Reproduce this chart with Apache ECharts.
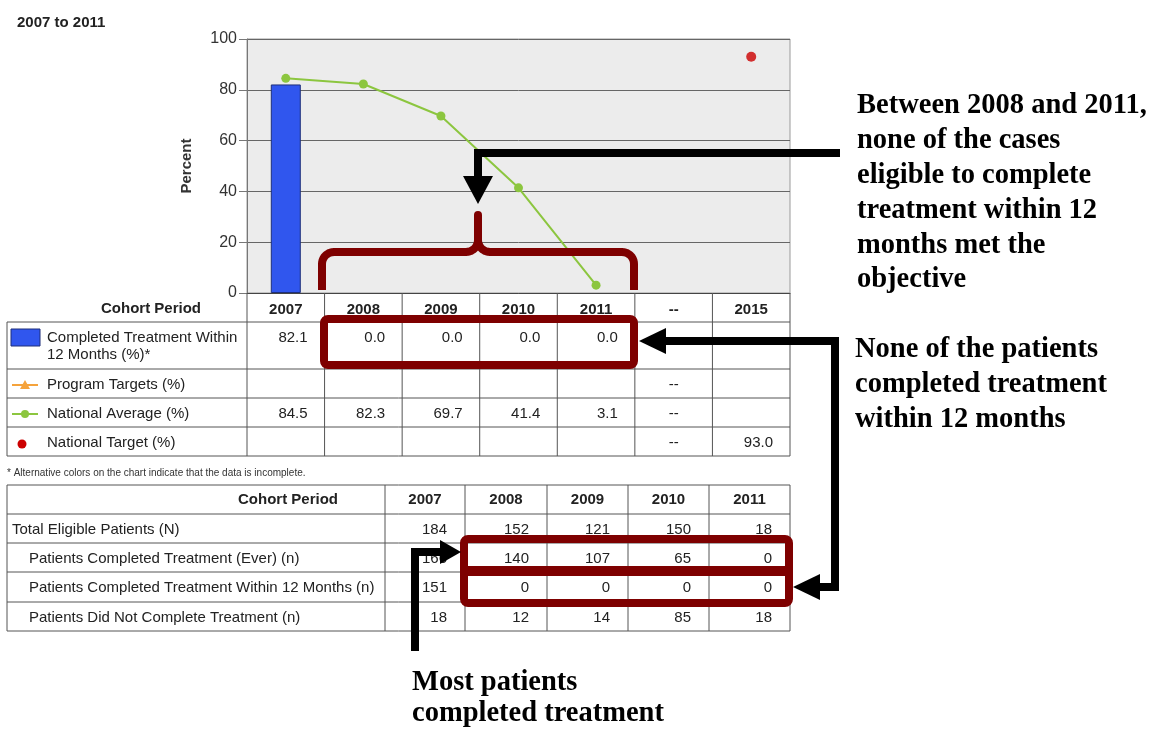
<!DOCTYPE html>
<html>
<head>
<meta charset="utf-8">
<script src="https://cdn.jsdelivr.net/npm/echarts@6/dist/echarts.min.js"></script>
<style>
  html, body { margin: 0; padding: 0; background: #fff; }
  #chart { width: 1160px; height: 730px; }
</style>
</head>
<body>
<div id="chart"></div>
<script>
// chart data
var periods = ['2007', '2008', '2009', '2010', '2011', '--', '2015'];
var completedPct = [82.1, 0.0, 0.0, 0.0, 0.0, null, null];
var programTargets = [null, null, null, null, null, null, null];
var nationalAvg = [84.5, 82.3, 69.7, 41.4, 3.1, null, null];
var nationalTarget = [null, null, null, null, null, null, 93.0];

// patient counts table
var cohortYears = ['2007', '2008', '2009', '2010', '2011'];
var totalEligible = [184, 152, 121, 150, 18];
var completedEver = [166, 140, 107, 65, 0];
var completedWithin12 = [151, 0, 0, 0, 0];
var didNotComplete = [18, 12, 14, 85, 18];

var SANS = '"Liberation Sans", Arial, sans-serif';
var SERIF = '"Liberation Serif", "Times New Roman", serif';
var MAROON = '#7e0000';
var GREEN = '#8cc63f';
var ORANGE = '#f5a33c';
var RED = '#cc0000';
var BLUE = '#3056ee';
var LINE = '#555';

var chart = echarts.init(document.getElementById('chart'), null, { renderer: 'canvas' });

// zero-height bars get no outline so nothing shows on the axis
var barData = completedPct.map(function (v) {
  return v === 0 ? { value: v, itemStyle: { borderWidth: 0 } } : v;
});

chart.setOption({
  backgroundColor: '#fff',
  animation: false,
  grid: {
    left: 247, top: 39, width: 543, height: 254,
    show: true, backgroundColor: '#ececec', borderColor: '#9a9a9a', borderWidth: 1
  },
  xAxis: {
    type: 'category',
    data: periods,
    axisLine: { lineStyle: { color: '#444' } },
    axisTick: { show: false },
    axisLabel: { interval: 0, margin: 9, fontFamily: SANS, fontSize: 15, fontWeight: 'bold', color: '#222' },
    splitLine: { show: false }
  },
  yAxis: {
    type: 'value',
    min: 0, max: 100, interval: 20,
    name: 'Percent',
    nameLocation: 'middle',
    nameGap: 53,
    nameTextStyle: { fontFamily: SANS, fontSize: 15, fontWeight: 'bold', color: '#333' },
    axisLine: { show: true, lineStyle: { color: '#777' } },
    axisTick: { show: true, length: 8, lineStyle: { color: '#777' } },
    axisLabel: { margin: 10, fontFamily: SANS, fontSize: 16, color: '#333' },
    splitLine: { lineStyle: { color: '#666' } }
  },
  series: [
    {
      name: 'Completed Treatment Within 12 Months (%)',
      type: 'bar',
      data: barData,
      barWidth: 30,
      itemStyle: { color: BLUE, borderColor: '#1e2e7a', borderWidth: 1 }
    },
    {
      name: 'Program Targets (%)',
      type: 'line',
      data: programTargets,
      color: ORANGE,
      symbol: 'triangle'
    },
    {
      name: 'National Average (%)',
      type: 'line',
      data: nationalAvg,
      color: GREEN,
      symbol: 'circle',
      symbolSize: 9,
      lineStyle: { width: 2, color: GREEN },
      itemStyle: { color: GREEN }
    },
    {
      name: 'National Target (%)',
      type: 'scatter',
      data: nationalTarget,
      symbolSize: 10,
      itemStyle: { color: RED }
    }
  ]
});

function txt(x, y, s, o) {
  o = o || {};
  return {
    type: 'text', z: o.z || 50,
    style: {
      text: s, x: x, y: y,
      fill: o.fill || '#222',
      font: (o.bold ? 'bold ' : '') + (o.size || 15) + 'px ' + (o.family || SANS),
      align: o.align || 'left',
      verticalAlign: o.va || 'middle'
    }
  };
}
function seg(x1, y1, x2, y2, o) {
  o = o || {};
  return {
    type: 'line', z: o.z || 40,
    shape: { x1: x1, y1: y1, x2: x2, y2: y2 },
    style: { stroke: o.color || LINE, lineWidth: o.width || 1, lineCap: o.cap || 'butt' }
  };
}
function poly(points, o) {
  return {
    type: 'polyline', z: o.z || 100,
    shape: { points: points },
    style: { stroke: o.color, lineWidth: o.width, fill: 'none', lineJoin: o.join || 'miter', lineCap: o.cap || 'butt' }
  };
}
function head(points, color) {
  return { type: 'polygon', z: 101, shape: { points: points }, style: { fill: color || '#000' } };
}
function arc(cx, cy, r, a0, a1) {
  var pts = [];
  for (var k = 0; k <= 10; k++) {
    var a = a0 + (a1 - a0) * k / 10;
    pts.push([cx + r * Math.cos(a), cy + r * Math.sin(a)]);
  }
  return pts;
}

var g = [];
var x0 = chart.convertToPixel({ xAxisIndex: 0 }, periods[0]);
var colW = chart.convertToPixel({ xAxisIndex: 0 }, periods[1]) - x0;
var gridLeft = x0 - colW / 2;
var gridRight = gridLeft + colW * periods.length;

// title
g.push(txt(17, 23, '2007 to 2011', { bold: true, size: 15 }));

// ---- legend table under the chart ----
var t1Rows = [322, 369, 398, 427, 456];
t1Rows.forEach(function (y) { g.push(seg(7, y, gridRight, y)); });
g.push(seg(7, 322, 7, 456));
for (var c = 0; c <= periods.length; c++) {
  var cx = gridLeft + c * colW;
  g.push(seg(cx, 293, cx, 456));
}
g.push(txt(151, 309, 'Cohort Period', { bold: true, align: 'center' }));

var t1 = [
  { label: ['Completed Treatment Within', '12 Months (%)*'], vals: completedPct, dash: false, y: 338 },
  { label: ['Program Targets (%)'], vals: programTargets, dash: true, y: 385 },
  { label: ['National Average (%)'], vals: nationalAvg, dash: true, y: 414 },
  { label: ['National Target (%)'], vals: nationalTarget, dash: true, y: 443 }
];
t1.forEach(function (row) {
  row.label.forEach(function (l, k) { g.push(txt(47, row.y + k * 17, l)); });
  row.vals.forEach(function (v, i) {
    var cxi = x0 + i * colW;
    if (v != null) {
      g.push(txt(cxi + colW / 2 - 17, row.y, v.toFixed(1), { align: 'right' }));
    } else if (row.dash && periods[i] === '--') {
      g.push(txt(cxi, row.y, '--', { align: 'center' }));
    }
  });
});
// legend icons
g.push({ type: 'rect', z: 50, shape: { x: 11, y: 329, width: 29, height: 17 }, style: { fill: BLUE, stroke: '#1e2e7a', lineWidth: 1 } });
g.push(seg(12, 385, 38, 385, { color: ORANGE, width: 2, z: 50 }));
g.push(head([[25, 380], [30, 389], [20, 389]], ORANGE));
g.push(seg(12, 414, 38, 414, { color: GREEN, width: 2, z: 50 }));
g.push({ type: 'circle', z: 51, shape: { cx: 25, cy: 414, r: 4 }, style: { fill: GREEN } });
g.push({ type: 'circle', z: 51, shape: { cx: 22, cy: 444, r: 4.5 }, style: { fill: RED } });

g.push(txt(7, 473, '* Alternative colors on the chart indicate that the data is incomplete.', { size: 10, fill: '#333' }));

// ---- patient counts table ----
var t2Y = [485, 514, 543, 572, 602, 631];
var t2X = [7, 385, 465, 547, 628, 709, 790];
t2Y.forEach(function (y) { g.push(seg(7, y, 790, y)); });
t2X.forEach(function (x) { g.push(seg(x, 485, x, 631)); });
g.push(txt(288, 500, 'Cohort Period', { bold: true, align: 'center' }));
cohortYears.forEach(function (yr, i) {
  g.push(txt((t2X[i + 1] + t2X[i + 2]) / 2, 500, yr, { bold: true, align: 'center' }));
});
var t2 = [
  { label: 'Total Eligible Patients (N)', x: 12, vals: totalEligible },
  { label: 'Patients Completed Treatment (Ever) (n)', x: 29, vals: completedEver },
  { label: 'Patients Completed Treatment Within 12 Months (n)', x: 29, vals: completedWithin12 },
  { label: 'Patients Did Not Complete Treatment (n)', x: 29, vals: didNotComplete }
];
t2.forEach(function (row, r) {
  var y = (t2Y[r + 1] + t2Y[r + 2]) / 2 + 1;
  g.push(txt(row.x, y, row.label));
  row.vals.forEach(function (v, i) {
    g.push(txt(t2X[i + 2] - 18, y, String(v), { align: 'right' }));
  });
});

// ---- annotations ----
// curly bracket over 2008-2011
var br = [[322, 290], [322, 264]]
  .concat(arc(334, 264, 12, Math.PI, 1.5 * Math.PI))
  .concat(arc(466, 240, 12, 0.5 * Math.PI, 0))
  .concat([[478, 215]])
  .concat(arc(490, 240, 12, Math.PI, 0.5 * Math.PI))
  .concat(arc(622, 264, 12, 1.5 * Math.PI, 2 * Math.PI))
  .concat([[634, 290]]);
g.push(poly(br, { color: MAROON, width: 8, join: 'round' }));

// boxes
g.push({ type: 'rect', z: 100, shape: { x: 324, y: 319, width: 310, height: 46, r: 4 }, style: { stroke: MAROON, fill: 'none', lineWidth: 8 } });
g.push({ type: 'rect', z: 100, shape: { x: 464, y: 539, width: 325, height: 64, r: 4 }, style: { stroke: MAROON, fill: 'none', lineWidth: 8 } });
g.push(seg(464, 571, 789, 571, { color: MAROON, width: 10, z: 100 }));

// arrows
g.push(poly([[840, 153], [478, 153], [478, 180]], { color: '#000', width: 8 }));
g.push(head([[463, 176], [493, 176], [478, 204]]));

g.push(poly([[818, 587], [835, 587], [835, 341], [664, 341]], { color: '#000', width: 8 }));
g.push(head([[666, 328], [666, 354], [639, 341]]));
g.push(head([[820, 574], [820, 600], [793, 587]]));

g.push(poly([[415, 651], [415, 552], [442, 552]], { color: '#000', width: 8 }));
g.push(head([[440, 540], [440, 564], [461, 552]]));

// annotation text
var note1 = ['Between 2008 and 2011,', 'none of the cases', 'eligible to complete', 'treatment within 12', 'months met the', 'objective'];
note1.forEach(function (l, k) { g.push(txt(857, 106 + k * 34.8, l, { bold: true, size: 28.5, family: SERIF, fill: '#000' })); });
var note2 = ['None of the patients', 'completed treatment', 'within 12 months'];
note2.forEach(function (l, k) { g.push(txt(855, 350 + k * 35, l, { bold: true, size: 28.5, family: SERIF, fill: '#000' })); });
var note3 = ['Most patients', 'completed treatment'];
note3.forEach(function (l, k) { g.push(txt(412, 683 + k * 31, l, { bold: true, size: 28.5, family: SERIF, fill: '#000' })); });

chart.setOption({ graphic: g });
</script>
</body>
</html>
